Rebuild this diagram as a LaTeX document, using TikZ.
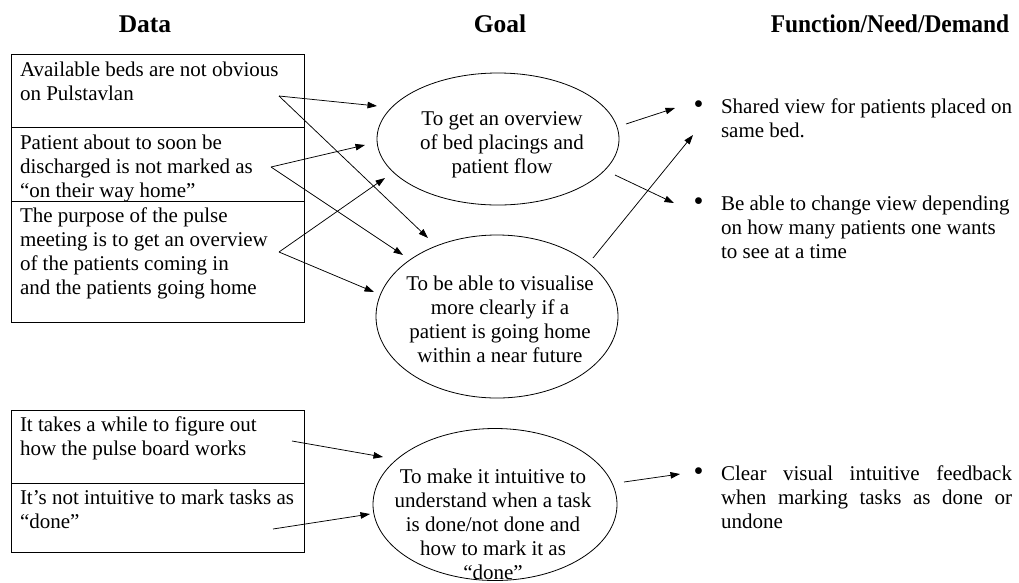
\documentclass[tikz,border=0pt]{standalone}
\usepackage{fontspec}
\usepackage{graphicx}
\setmainfont{Liberation Serif}
\usetikzlibrary{shapes.geometric,arrows.meta}

% list bullet used in the right-hand column
\newcommand{\itemdot}{\makebox[27.5pt][l]{\raisebox{-0.8pt}{\scalebox{1.35}{\textbullet}}}}

\begin{document}
\begin{tikzpicture}[x=1pt,y=-1pt,
  every node/.style={inner sep=0pt, outer sep=0pt},
  header/.style={font=\fontsize{25.5}{30}\selectfont\bfseries, anchor=base},
  databox/.style={draw, line width=0.9pt, anchor=north west, minimum width=293pt},
  body/.style={font=\fontsize{21}{24}\selectfont, anchor=north west, align=left},
  goaltext/.style={font=\fontsize{21}{24}\selectfont, anchor=north, align=center},
  goal/.style={draw, ellipse, line width=0.8pt},
  item/.style={font=\fontsize{21}{24}\selectfont, anchor=north west},
  link/.style={line width=0.75pt, -{Triangle[length=9.5pt,width=6.5pt]}}
]
\useasboundingbox (0,0) rectangle (1019,582);

% column headings
\node[header] (hdata) at (145,32) {Data};
\node[header] (hgoal) at (500,32) {Goal};
\node[header] (hfunc) at (890,32) {\scalebox{0.92}[1]{Function/Need/Demand}};

% data boxes
\node[databox, minimum height=73pt]  (d1) at (11,54)  {};
\node[databox, minimum height=74pt]  (d2) at (11,127) {};
\node[databox, minimum height=121pt] (d3) at (11,201) {};
\node[databox, minimum height=73pt]  (d4) at (11,410) {};
\node[databox, minimum height=69pt]  (d5) at (11,483) {};

\node[body] (d1t) at (20,59.2)  {\strut Available beds are not obvious\\on Pulstavlan};
\node[body] (d2t) at (20,132.2) {\strut Patient about to soon be\\discharged is not marked as\\“on their way home”};
\node[body] (d3t) at (20,205.2) {\strut The purpose of the pulse\\meeting is to get an overview\\of the patients coming in\\and the patients going home};
\node[body] (d4t) at (20,414.2) {\strut It takes a while to figure out\\how the pulse board works};
\node[body] (d5t) at (20,487.2) {\strut It’s not intuitive to mark tasks as\\“done”};

% goals
\node[goal, minimum width=242pt, minimum height=132pt] (g1) at (498,139) {};
\node[goal, minimum width=242pt, minimum height=163pt] (g2) at (497,316.5) {};
\node[goal, minimum width=244pt, minimum height=152pt] (g3) at (495,504.5) {};

\node[goaltext] (g1t) at (502,108.2) {\strut To get an overview\\of bed placings and\\patient flow};
\node[goaltext] (g2t) at (500,273.2) {\strut To be able to visualise\\more clearly if a\\patient is going home\\within a near future};
\node[goaltext] (g3t) at (493,466.2) {\strut To make it intuitive to\\understand when a task\\is done/not done and\\how to mark it as\\“done”};

% functions / needs / demands
\node[item] (f1) at (693.5,96.2) {\itemdot\parbox[t]{300pt}{\raggedright\strut Shared view for patients placed on\\same bed.}};
\node[item] (f2) at (693.5,193.2) {\itemdot\parbox[t]{300pt}{\raggedright\strut Be able to change view depending\\on how many patients one wants\\to see at a time}};
\node[item] (f3) at (693.5,463.2) {\itemdot\parbox[t]{291pt}{\strut Clear visual intuitive feedback\linebreak when marking tasks as done or\linebreak undone}};

% connector end points
\coordinate (d1o) at (279,96);
\coordinate (d2o) at (271,167);
\coordinate (d3o) at (279,252);
\coordinate (d4o) at (292,441);
\coordinate (d5o) at (273,529);
\coordinate (g1a) at (377,106);
\coordinate (g1b) at (365,145);
\coordinate (g1c) at (385,178);
\coordinate (g2a) at (428,238);
\coordinate (g2b) at (403,255);
\coordinate (g2c) at (374,292);
\coordinate (g3a) at (383,457);
\coordinate (g3b) at (370,514);
\coordinate (g1o) at (626,124);
\coordinate (g1p) at (615,175);
\coordinate (g2o) at (593,258);
\coordinate (g3o) at (624,482);
\coordinate (f1a) at (675,108);
\coordinate (f1b) at (693,135);
\coordinate (f2a) at (674,203);
\coordinate (f3a) at (680,474);

% data -> goal
\draw[link] (d1o) -- (g1a);
\draw[link] (d1o) -- (g2a);
\draw[link] (d2o) -- (g1b);
\draw[link] (d2o) -- (g2b);
\draw[link] (d3o) -- (g1c);
\draw[link] (d3o) -- (g2c);
\draw[link] (d4o) -- (g3a);
\draw[link] (d5o) -- (g3b);

% goal -> function
\draw[link] (g1o) -- (f1a);
\draw[link] (g1p) -- (f2a);
\draw[link] (g2o) -- (f1b);
\draw[link] (g3o) -- (f3a);
\end{tikzpicture}
\end{document}
